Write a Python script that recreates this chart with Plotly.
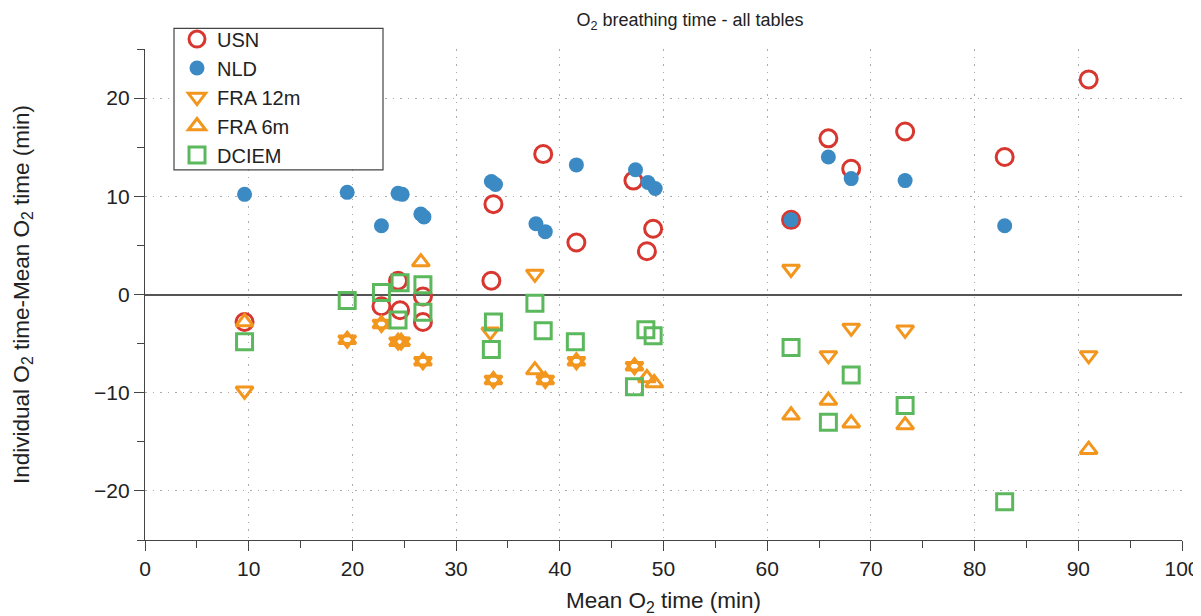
import plotly.graph_objects as go

# ---- data ----
usn_x = [9.6, 22.8, 24.4, 24.6, 26.8, 26.8, 33.4, 33.6, 38.4, 41.6, 47.1, 48.4, 49.0, 62.3, 65.9, 68.1, 73.3, 82.9, 91.0]
usn_y = [-2.8, -1.2, 1.4, -1.6, -0.2, -2.8, 1.4, 9.2, 14.3, 5.3, 11.6, 4.4, 6.7, 7.6, 15.9, 12.8, 16.6, 14.0, 21.9]

nld_x = [9.6, 19.5, 22.8, 24.4, 24.8, 26.6, 26.9, 33.4, 33.8, 37.7, 38.6, 41.6, 47.3, 48.5, 49.2, 62.3, 65.9, 68.1, 73.3, 82.9]
nld_y = [10.2, 10.4, 7.0, 10.3, 10.2, 8.2, 7.9, 11.5, 11.2, 7.2, 6.4, 13.2, 12.7, 11.4, 10.8, 7.6, 14.0, 11.8, 11.6, 7.0]

fra12_x = [9.6, 19.5, 22.8, 24.4, 24.7, 26.8, 33.3, 33.6, 37.6, 38.6, 41.6, 47.2, 62.3, 65.9, 68.1, 73.3, 91.0]
fra12_y = [-9.8, -4.6, -3.0, -4.8, -4.8, -6.8, -3.8, -8.7, 2.1, -8.7, -6.8, -7.3, 2.6, -6.2, -3.4, -3.6, -6.2]

fra6_x = [9.6, 19.5, 22.8, 24.4, 24.7, 26.6, 26.8, 33.6, 37.6, 38.6, 41.6, 47.2, 48.4, 49.1, 62.3, 65.9, 68.1, 73.3, 91.0]
fra6_y = [-2.8, -4.6, -3.0, -4.8, -4.8, 3.3, -6.8, -8.7, -7.7, -8.7, -6.8, -7.3, -8.5, -9.0, -12.3, -10.8, -13.1, -13.3, -15.8]

dciem_x = [9.6, 19.5, 22.8, 24.4, 24.6, 26.8, 26.8, 33.4, 33.6, 37.6, 38.4, 41.5, 47.2, 48.3, 49.0, 62.3, 65.9, 68.1, 73.3, 82.9]
dciem_y = [-4.8, -0.6, 0.2, -2.6, 1.2, 1.0, -1.8, -5.6, -2.8, -0.9, -3.7, -4.8, -9.4, -3.6, -4.2, -5.4, -13.0, -8.2, -11.3, -21.1]

x_ticks = [0, 10, 20, 30, 40, 50, 60, 70, 80, 90, 100]
y_ticks = [-20, -10, 0, 10, 20]

RED = "#d7372e"
BLUE = "#3c8ac4"
ORANGE = "#f2961e"
GREEN = "#5cb85c"
FONT = "Liberation Sans, Arial, sans-serif"

# the page body has an 8px margin, so the figure is drawn offset by 8px
OFF = 8
FW, FH = 1201 - OFF, 616 - OFF

# plot-area geometry in figure pixels (screen pixels minus offset)
L, R, T, B = 145 - OFF, 1182 - OFF, 40 - OFF, 540 - OFF
W, H = R - L, B - T

def px_x(screen_p):
    return (screen_p - OFF - L) / W

def px_y(screen_p):
    return (B - (screen_p - OFF)) / H

fig = go.Figure()
fig.add_trace(go.Scatter(x=usn_x, y=usn_y, mode="markers", name="USN",
                         marker=dict(symbol="circle-open", size=17, color=RED,
                                     line=dict(width=3, color=RED))))
fig.add_trace(go.Scatter(x=nld_x, y=nld_y, mode="markers", name="NLD",
                         marker=dict(symbol="circle", size=15, color=BLUE,
                                     line=dict(width=0))))
fig.add_trace(go.Scatter(x=fra12_x, y=fra12_y, mode="markers", name="FRA 12m",
                         marker=dict(symbol="triangle-down-open", size=15, color=ORANGE,
                                     line=dict(width=3, color=ORANGE))))
fig.add_trace(go.Scatter(x=fra6_x, y=fra6_y, mode="markers", name="FRA 6m",
                         marker=dict(symbol="triangle-up-open", size=15, color=ORANGE,
                                     line=dict(width=3, color=ORANGE))))
fig.add_trace(go.Scatter(x=dciem_x, y=dciem_y, mode="markers", name="DCIEM",
                         marker=dict(symbol="square-open", size=16, color=GREEN,
                                     line=dict(width=3, color=GREEN))))

axis_common = dict(
    showline=True, linecolor="#444", linewidth=1.2,
    ticks="outside", ticklen=10, tickwidth=1.2, tickcolor="#444",
    showgrid=True, gridcolor="#aaaaaa", griddash="1.5px,6px", gridwidth=1,
    tickfont=dict(family=FONT, size=21, color="#222"),
    mirror=False, automargin=False,
)

fig.update_layout(
    width=FW, height=FH,
    margin=dict(l=L, r=FW - R, t=T, b=FH - B),
    paper_bgcolor="white", plot_bgcolor="white",
    font=dict(family=FONT, color="#222"),
    title=dict(text="O<sub>2</sub> breathing time - all tables",
               x=(690 - OFF) / FW, xanchor="center", y=1 - (20 - OFF) / FH, yanchor="middle",
               font=dict(family=FONT, size=18, color="#222")),
    xaxis=dict(range=[0, 100], tickvals=x_ticks,
               minor=dict(dtick=5, tick0=0, ticklen=7, tickcolor="#444", ticks="outside", showgrid=False),
               title=dict(text="Mean O<sub>2</sub> time (min)", standoff=14,
                          font=dict(family=FONT, size=22.5, color="#222")),
               zeroline=False, **axis_common),
    yaxis=dict(range=[-25, 25], tickvals=y_ticks,
               minor=dict(dtick=5, tick0=0, ticklen=7, tickcolor="#444", ticks="outside", showgrid=False),
               title=dict(text="Individual O<sub>2</sub> time-Mean O<sub>2</sub> time (min)", standoff=58,
                          font=dict(family=FONT, size=22.5, color="#222")),
               zeroline=True, zerolinecolor="#555", zerolinewidth=1.5, **axis_common),
    legend=dict(x=px_x(177), y=px_y(10), xanchor="left", yanchor="top",
                bgcolor="rgba(0,0,0,0)", borderwidth=0,
                font=dict(family=FONT, size=20, color="#222"),
                itemwidth=30, tracegroupgap=0),
    showlegend=True,
    shapes=[dict(type="rect", xref="paper", yref="paper",
                 x0=px_x(174), x1=px_x(383), y0=px_y(163), y1=px_y(19),
                 line=dict(color="#444", width=1.2), fillcolor="white", layer="above")],
)

fig.write_html("out.html")
